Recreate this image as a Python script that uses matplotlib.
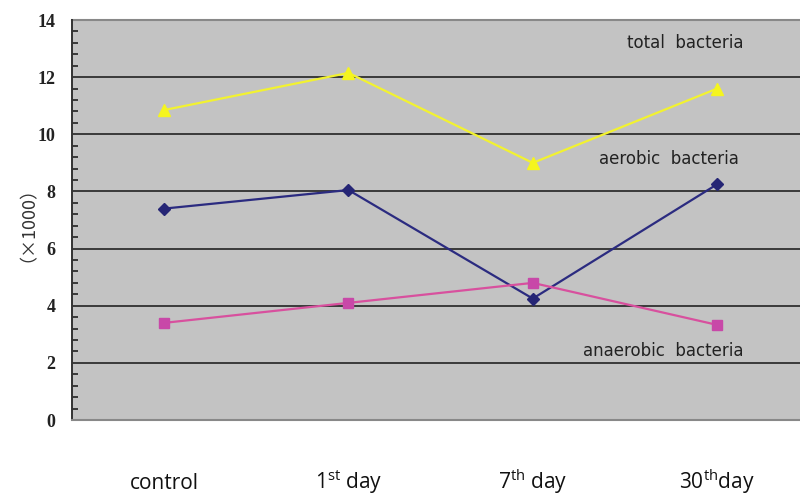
import matplotlib
matplotlib.use("Agg")
import matplotlib.pyplot as plt
from matplotlib.ticker import MultipleLocator

categories = ["control", "1$^{\\mathregular{st}}$ day", "7$^{\\mathregular{th}}$ day", "30$^{\\mathregular{th}}$day"]
total_bacteria = [10.85, 12.15, 9.0, 11.6]
aerobic_bacteria = [7.4, 8.05, 4.25, 8.25]
anaerobic_bacteria = [3.4, 4.1, 4.8, 3.33]
y_ticks = [0, 2, 4, 6, 8, 10, 12, 14]

fig = plt.figure(figsize=(8, 4.95), dpi=100)
ax = fig.add_axes([0.09, 0.1515, 0.91, 0.808])
ax.set_facecolor("#c3c3c3")
x = list(range(len(categories)))

ax.plot(x, total_bacteria, color="#f2f230", lw=1.6, marker="^", ms=8, mfc="#f5f51e", mec="#f5f51e", zorder=3)
ax.plot(x, aerobic_bacteria, color="#2b2b80", lw=1.6, marker="D", ms=6.5, mfc="#252575", mec="#252575", zorder=3)
ax.plot(x, anaerobic_bacteria, color="#d8509e", lw=1.6, marker="s", ms=7, mfc="#c848a8", mec="#c848a8", zorder=3)

ax.set_xlim(-0.5, 3.45)
ax.set_ylim(0, 14)
ax.set_yticks(y_ticks)
ax.yaxis.set_minor_locator(MultipleLocator(0.4))
ax.grid(axis="y", which="major", color="#3a3a3a", lw=1.4)
ax.set_axisbelow(True)

ax.set_xticks(x)
ax.set_xticklabels(categories, fontsize=15, family="Open Sans", color="#111111")
for lbl in ax.get_xticklabels():
    lbl.set_verticalalignment("baseline")
ax.tick_params(axis="x", length=0, pad=50)
ax.tick_params(axis="y", which="major", direction="in", length=0, pad=12,
               labelsize=13)
ax.tick_params(axis="y", which="minor", direction="in", length=4, width=1.2, color="#222222")
for lbl in ax.get_yticklabels():
    lbl.set_family("Liberation Serif")
    lbl.set_fontweight("bold")
    lbl.set_color("#222222")

for side in ["top", "right"]:
    ax.spines[side].set_visible(False)
ax.spines["left"].set_color("#333333")
ax.spines["left"].set_linewidth(1.4)
ax.spines["bottom"].set_color("#888888")
ax.spines["bottom"].set_linewidth(1.5)
ax.axhline(14, color="#888888", lw=1.5, clip_on=False)

tfont = dict(fontsize=12, family="DejaVu Sans", color="#222222", ha="center", va="center")
ax.text(2.83, 13.2, "total  bacteria", **tfont)
ax.text(2.74, 9.15, "aerobic  bacteria", **tfont)
ax.text(2.71, 2.4, "anaerobic  bacteria", **tfont)

fig.text(0.024, 0.565, "（×1000）", rotation=90, fontsize=13, ha="center", va="center",
         family=["Noto Sans CJK SC", "DejaVu Sans"], color="#333333")

fig.savefig("out.png", dpi=100, facecolor="white")
